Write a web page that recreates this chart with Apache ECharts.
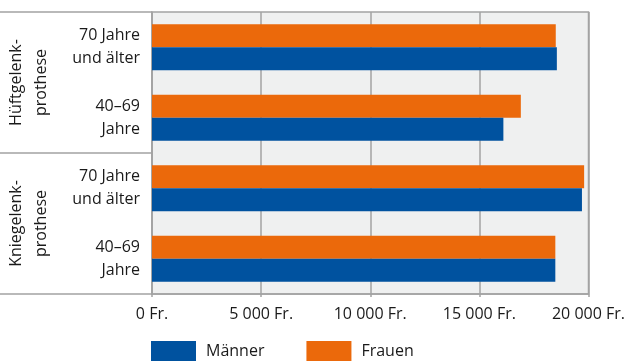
<!DOCTYPE html>
<html><head><meta charset="utf-8">
<script src="https://cdn.jsdelivr.net/npm/echarts@6/dist/echarts.min.js"></script>
<style>html,body{margin:0;padding:0;background:#fff}#c{width:629px;height:362px}</style>
</head><body><div id="c"></div>
<script>
const groups = ['Hüftgelenk-\nprothese', 'Kniegelenk-\nprothese'];
const categories = ['70 Jahre\nund älter', '40–69\nJahre', '70 Jahre\nund älter', '40–69\nJahre'];
const maenner = [18550, 16100, 19700, 18480];
const frauen = [18500, 16900, 19800, 18480];
const xTicks = [0, 5000, 10000, 15000, 20000];

const FONT = 'Open Sans';
const TXT = '#1a1a1a';
const GRAY = '#a3a3a3';
const chart = echarts.init(document.getElementById('c'));
chart.setOption({
  animation: false,
  textStyle: { fontFamily: FONT },
  grid: { left: 152, right: 40.5, top: 12, bottom: 68, show: true, backgroundColor: '#eff0f0', borderColor: GRAY, borderWidth: 1.5 },
  legend: {
    left: 151, top: 341, padding: 0, itemGap: 42, itemWidth: 45, itemHeight: 20,
    icon: 'rect', textStyle: { fontSize: 16, color: TXT, fontFamily: FONT, padding: [0, 0, 0, 5] },
    data: ['Männer', 'Frauen']
  },
  xAxis: {
    type: 'value', min: xTicks[0], max: xTicks[xTicks.length - 1], interval: 5000,
    axisLine: { show: true, lineStyle: { color: GRAY, width: 1.5 } },
    axisTick: { show: true, length: 3, lineStyle: { color: GRAY, width: 1.5 } },
    splitLine: { show: true, lineStyle: { color: GRAY, width: 1.5 } },
    axisLabel: {
      margin: 12, fontSize: 16, color: TXT, fontFamily: FONT,
      formatter: v => String(v).replace(/\B(?=(\d{3})+(?!\d))/g, ' ') + ' Fr.'
    }
  },
  yAxis: [
    {
      type: 'category', inverse: true, data: categories,
      axisLine: { show: true, lineStyle: { color: GRAY, width: 1.5 } },
      axisTick: { show: false },
      axisLabel: { margin: 12, fontSize: 16, lineHeight: 23, color: TXT, fontFamily: FONT, align: 'right' }
    },
    {
      type: 'category', inverse: true, data: groups, position: 'left',
      axisLine: { show: false },
      axisTick: { show: true, length: 152, lineStyle: { color: GRAY, width: 1.5 } },
      axisLabel: { margin: 98, rotate: 90, fontSize: 16, lineHeight: 25, color: TXT, fontFamily: FONT }
    }
  ],
  series: [
    { name: 'Frauen', type: 'bar', yAxisIndex: 0, data: frauen, barGap: '0%', barCategoryGap: '35%', itemStyle: { color: '#eb690b' } },
    { name: 'Männer', type: 'bar', yAxisIndex: 0, data: maenner, barGap: '0%', barCategoryGap: '35%', itemStyle: { color: '#00529f' } }
  ]
});
</script></body></html>
